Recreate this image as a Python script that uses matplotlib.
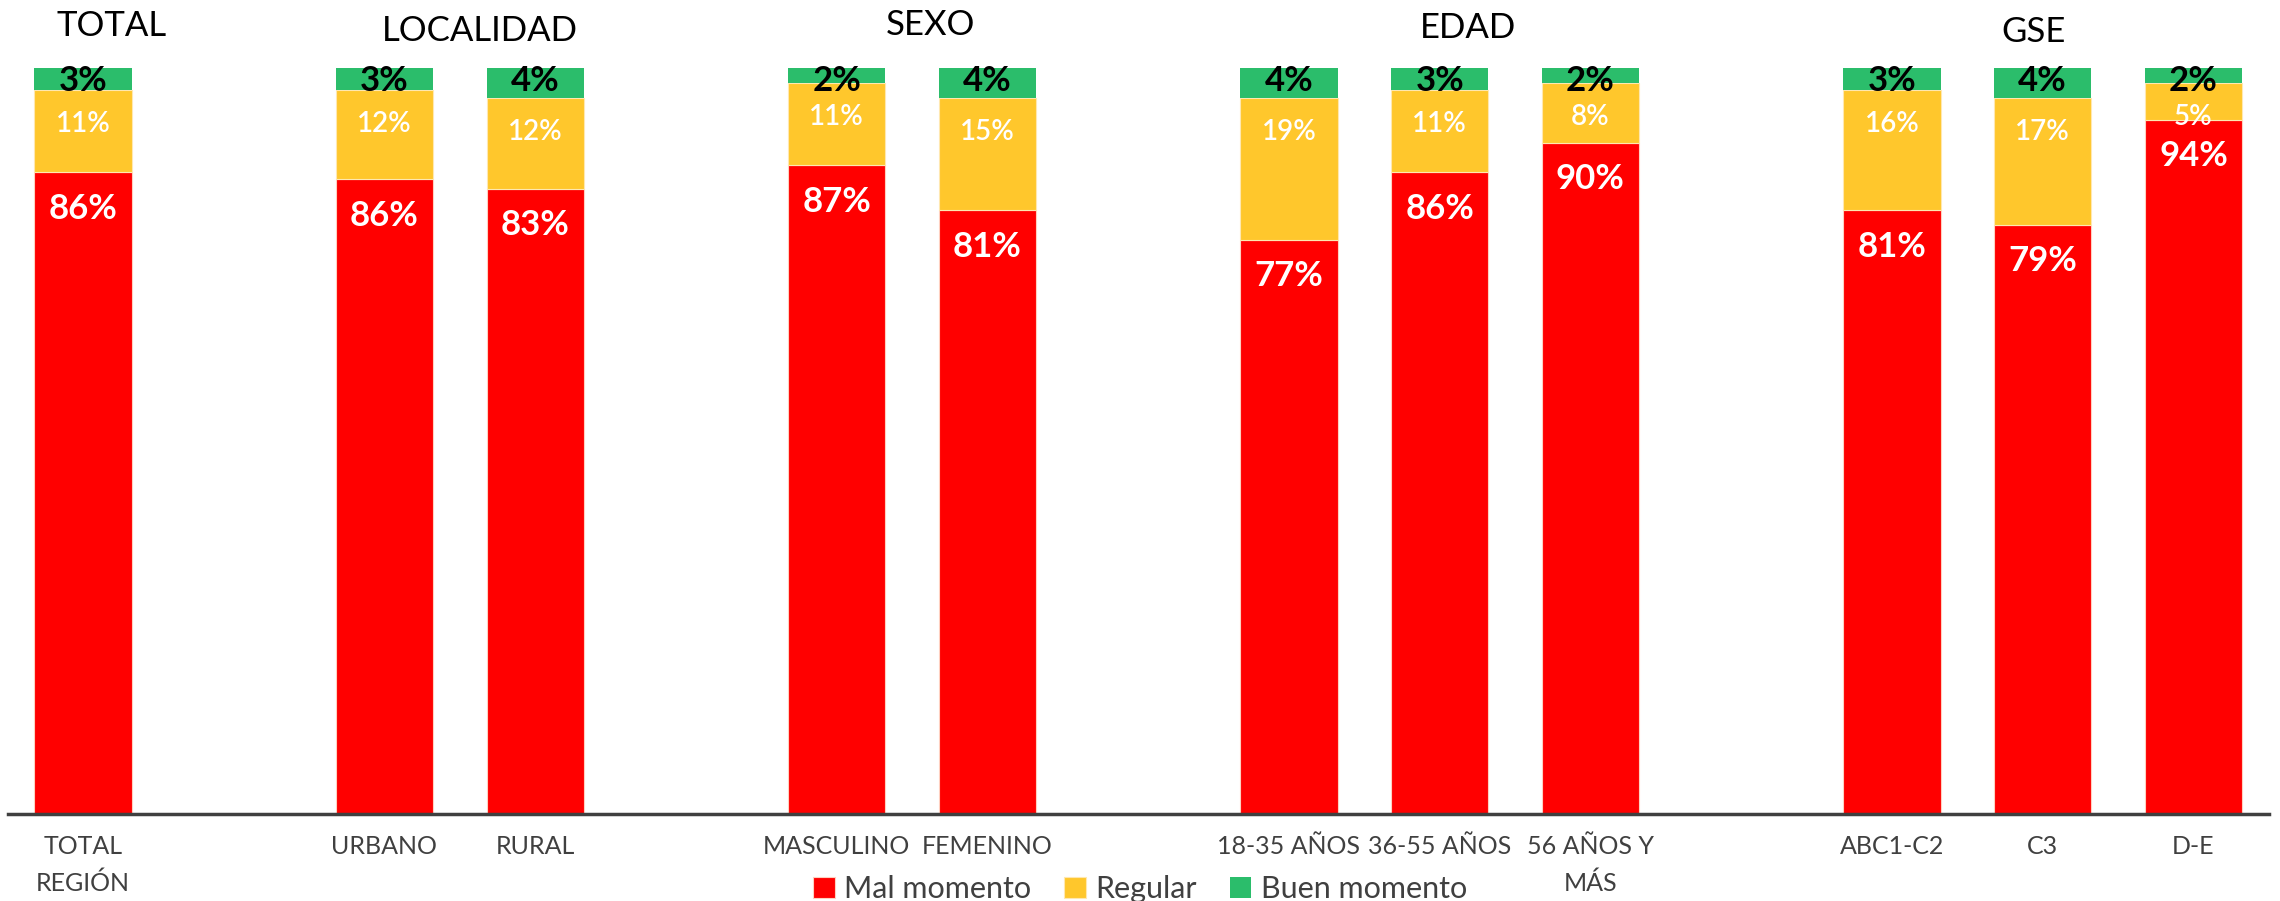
import matplotlib
matplotlib.use('Agg')
import matplotlib.pyplot as plt
import numpy as np

# data
categorias = ['TOTAL\nREGIÓN', 'URBANO', 'RURAL', 'MASCULINO', 'FEMENINO',
              '18-35 AÑOS', '36-55 AÑOS', '56 AÑOS Y\nMÁS', 'ABC1-C2', 'C3', 'D-E']
posiciones = [0, 2, 3, 5, 6, 8, 9, 10, 12, 13, 14]
mal = [86, 86, 83, 87, 81, 77, 86, 90, 81, 79, 94]
regular = [11, 12, 12, 11, 15, 19, 11, 8, 16, 17, 5]
buen = [3, 3, 4, 2, 4, 4, 3, 2, 3, 4, 2]
grupos = ['TOTAL', 'LOCALIDAD', 'SEXO', 'EDAD', 'GSE']
grupo_x = [0.19, 2.63, 5.62, 9.19, 12.94]
grupo_y = [1.056, 1.049, 1.057, 1.053, 1.048]

plt.rcParams['font.family'] = ['Lato', 'DejaVu Sans']

c_mal = '#FF0000'
c_reg = '#FFC72C'
c_buen = '#2BBD6B'
gris = '#404040'

# 100% stacked
tot = np.array(mal) + np.array(regular) + np.array(buen)
f_mal = np.array(mal) / tot
f_reg = np.array(regular) / tot
f_buen = np.array(buen) / tot

fig = plt.figure(figsize=(22.8, 9.01), dpi=100)
ax = fig.add_axes([0.0033, 0.0966, 0.9918, 0.828])

w = 0.645
ax.bar(posiciones, f_mal, w, color=c_mal, edgecolor='#FFD0C0', linewidth=0.8, label='Mal momento')
ax.bar(posiciones, f_reg, w, bottom=f_mal, color=c_reg, edgecolor='#FFE8B0', linewidth=0.8, label='Regular')
ax.bar(posiciones, f_buen, w, bottom=f_mal + f_reg, color=c_buen, edgecolor='none', label='Buen momento')

# labels
for i, x in enumerate(posiciones):
    ax.annotate(str(mal[i]) + '%', (x, f_mal[i]), xytext=(0, -15), textcoords='offset points',
                ha='center', va='top', color='white', fontsize=25, fontweight='bold')
    ax.annotate(str(regular[i]) + '%', (x, f_mal[i] + f_reg[i]), xytext=(0, -15), textcoords='offset points',
                ha='center', va='top', color='white', fontsize=20, fontweight='semibold')
    ax.annotate(str(buen[i]) + '%', (x, 1.0), xytext=(0, 2), textcoords='offset points',
                ha='center', va='top', color='black', fontsize=25, fontweight='bold')

for g, gx, gy in zip(grupos, grupo_x, grupo_y):
    ax.text(gx, gy, g, ha='center', va='center', fontsize=25, color='black')

ax.set_xlim(-0.5, 14.5)
ax.set_ylim(0, 1)
ax.set_xticks(posiciones)
ax.set_xticklabels(categorias, fontsize=18, color=gris, linespacing=1.7)
ax.tick_params(axis='x', length=0, pad=15)
ax.set_yticks([])
for s in ['top', 'right', 'left']:
    ax.spines[s].set_visible(False)
ax.spines['bottom'].set_color(gris)
ax.spines['bottom'].set_linewidth(2.5)

fig.legend(loc='center', bbox_to_anchor=(0.5, 0.013), ncol=3, frameon=False,
           fontsize=22, labelcolor=gris, handlelength=0.7, handleheight=0.7,
           handletextpad=0.3, columnspacing=1.1)

fig.savefig('out.png', dpi=100)
